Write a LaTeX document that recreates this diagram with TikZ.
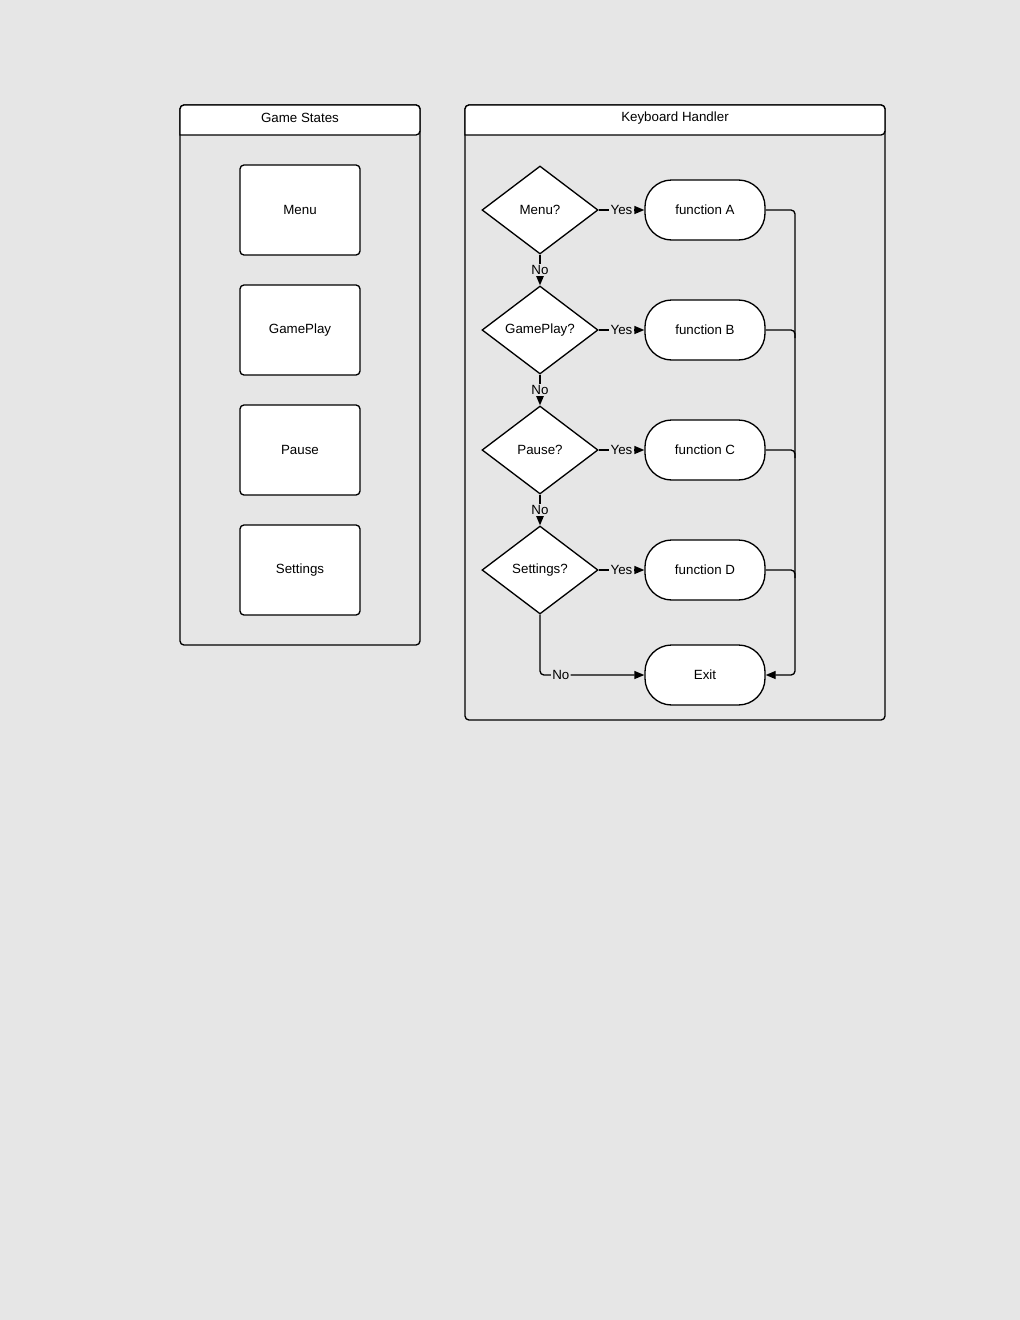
\documentclass[tikz,border=0pt]{standalone}
\usepackage{fontspec}
\setmainfont{Liberation Sans}
\usetikzlibrary{shapes.geometric,arrows.meta,positioning}
\definecolor{pagegray}{RGB}{230,230,230}
\begin{document}
\begin{tikzpicture}[x=0.75pt, y=-0.75pt, >={Triangle[length=7.5pt,width=6pt]},
  line width=1pt, font=\fontsize{10}{12}\selectfont,
  statebox/.style={draw, fill=white, rounded corners=3pt, minimum width=90pt, minimum height=67.5pt},
  decision/.style={draw, fill=white, diamond, shape aspect=1.32, inner sep=1pt, minimum width=87pt, minimum height=66pt},
  terminal/.style={draw, fill=white, rounded corners=20pt, minimum width=90pt, minimum height=45pt},
  lbl/.style={fill=pagegray, inner sep=1pt}]
\fill[pagegray] (0,0) rectangle (1020,1320);
\useasboundingbox (0,0) rectangle (1020,1320);

% containers
\draw[rounded corners=3pt] (180,105) rectangle (420,645);
\draw[fill=white, rounded corners=3pt] (180,135) -- (180,105) -- (420,105) -- (420,135) [sharp corners] -- cycle;
\node (gshead) at (300,118) {Game States};
\draw[rounded corners=3pt] (465,105) rectangle (885,720);
\draw[fill=white, rounded corners=3pt] (465,135) -- (465,105) -- (885,105) -- (885,135) [sharp corners] -- cycle;
\node (khhead) at (675,118) {Keyboard Handler};

% game states
\node[statebox] (smenu) at (300,210) {Menu};
\node[statebox] (splay) at (300,330) {GamePlay};
\node[statebox] (spause) at (300,450) {Pause};
\node[statebox] (sset) at (300,570) {Settings};

% keyboard handler
\node[decision] (qmenu) at (540,210) {Menu?};
\node[decision] (qplay) at (540,330) {GamePlay?};
\node[decision] (qpause) at (540,450) {Pause?};
\node[decision] (qset) at (540,570) {Settings?};
\node[terminal] (fa) at (705,210) {function A};
\node[terminal] (fb) at (705,330) {function B};
\node[terminal] (fc) at (705,450) {function C};
\node[terminal] (fd) at (705,570) {function D};
\node[terminal] (exit) at (705,675) {Exit};
\coordinate (rail) at (795,675);

\foreach \q/\f in {qmenu/fa, qplay/fb, qpause/fc, qset/fd}
{
    \draw[->] (\q.east) -- node[lbl]{Yes} (\f.west);
}
\foreach \a/\b in {qmenu/qplay, qplay/qpause, qpause/qset}
{
    \draw[->] (\a.south) -- node[lbl]{No} (\b.north);
}
\draw[->, rounded corners=3pt] (qset.south) |- node[lbl, pos=0.6]{No} (exit.west);

\draw[->, rounded corners=3pt] (fa.east) -| (rail) -- (exit.east);
\foreach \f in {fb, fc, fd}
{
    \draw[rounded corners=3pt] (\f.east) -- (\f.east -| rail) -- ++(0,8);
}
\end{tikzpicture}
\end{document}
